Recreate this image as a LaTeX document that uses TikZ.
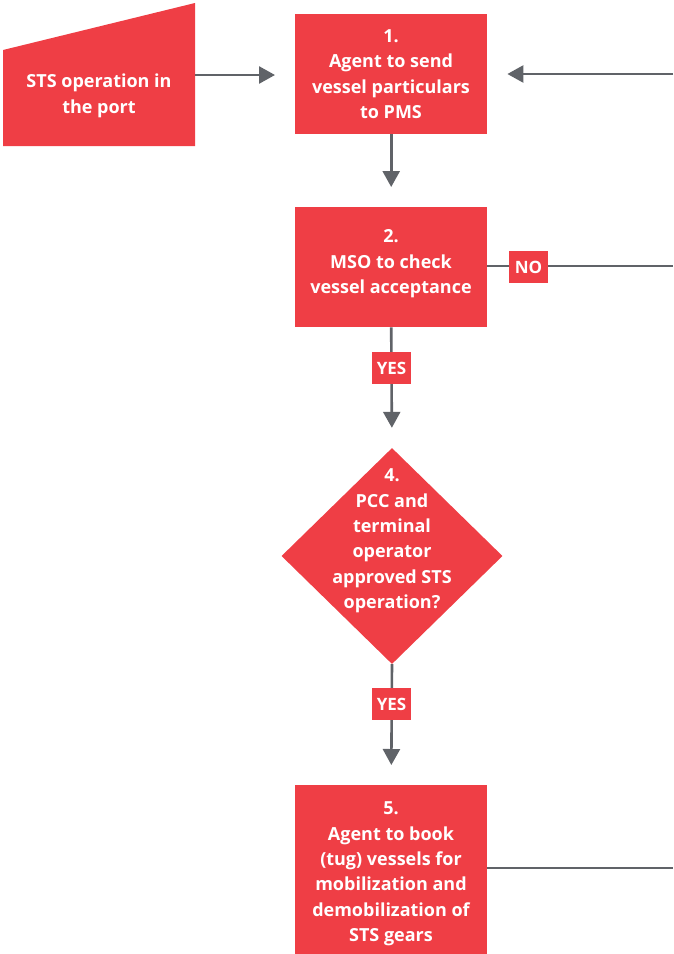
\documentclass[tikz,border=0pt]{standalone}
\usepackage{fontspec}
\setmainfont{Open Sans}
\usetikzlibrary{arrows.meta,shapes.geometric}
\definecolor{flowred}{HTML}{EF3E45}
\definecolor{flowgray}{HTML}{606368}
\begin{document}
\begin{tikzpicture}[x=1pt,y=-1pt,
  boxtxt/.style={text=white,font=\fontsize{18}{25.4}\selectfont\bfseries,align=center,inner sep=0pt},
  stepbox/.style={fill=flowred,minimum width=192pt,inner sep=0pt,anchor=north west},
  tag/.style={fill=flowred,text=white,font=\fontsize{17}{18}\selectfont\bfseries,minimum width=39pt,minimum height=32pt,inner sep=0pt},
  flow/.style={draw=flowgray,line width=2.6pt},
  arr/.style={flow,-{Triangle[length=16pt,width=17pt]},shorten >=20pt}]
\useasboundingbox (0,0) rectangle (673,954);

% manual input shape
\fill[flowred] (3,50) -- (195,3) -- (195,146) -- (3,146) -- cycle;
\node[boxtxt] (in) at (99,96) {STS operation in\\the port};
\coordinate (inE) at (195,75);

% process boxes
\node[stepbox,minimum height=120pt] (b1) at (295,14) {};
\node[boxtxt] (t1) at (391,74) {1.\\Agent to send\\vessel particulars\\to PMS};
\node[stepbox,minimum height=120pt] (b2) at (295,207) {};
\node[boxtxt] (t2) at (391,264) {2.\\MSO to check\\vessel acceptance};
\node[stepbox,minimum height=169pt] (b5) at (295,785) {};
\node[boxtxt] (t5) at (391,874) {5.\\Agent to book\\(tug) vessels for\\mobilization and\\demobilization of\\STS gears};

% decision
\node[diamond,fill=flowred,minimum width=221pt,minimum height=216pt,inner sep=0pt] (d4) at (392,556) {};
\node[boxtxt] (t4) at (392,541) {4.\\PCC and\\terminal\\operator\\approved STS\\operation?};

% right-hand ends
\coordinate (r1) at (673,74);
\coordinate (r2) at (673,266);
\coordinate (r5) at (673,868);

% connectors
\draw[arr] (inE) -- (inE -| b1.west);
\draw[arr] (r1) -- (r1 -| b1.east);
\draw[arr] (b1.south) -- (b2.north);
\draw[flow] (r2 -| b2.east) -- (r2);
\draw[arr] (b2.south) -- (d4.north);
\draw[arr] (d4.south) -- (b5.north);
\draw[flow] (r5 -| b5.east) -- (r5);

% branch labels
\node[tag] (no) at (528.5,267) {NO};
\node[tag] (yes1) at (391.5,368) {YES};
\node[tag] (yes2) at (391.5,704) {YES};
\end{tikzpicture}
\end{document}
